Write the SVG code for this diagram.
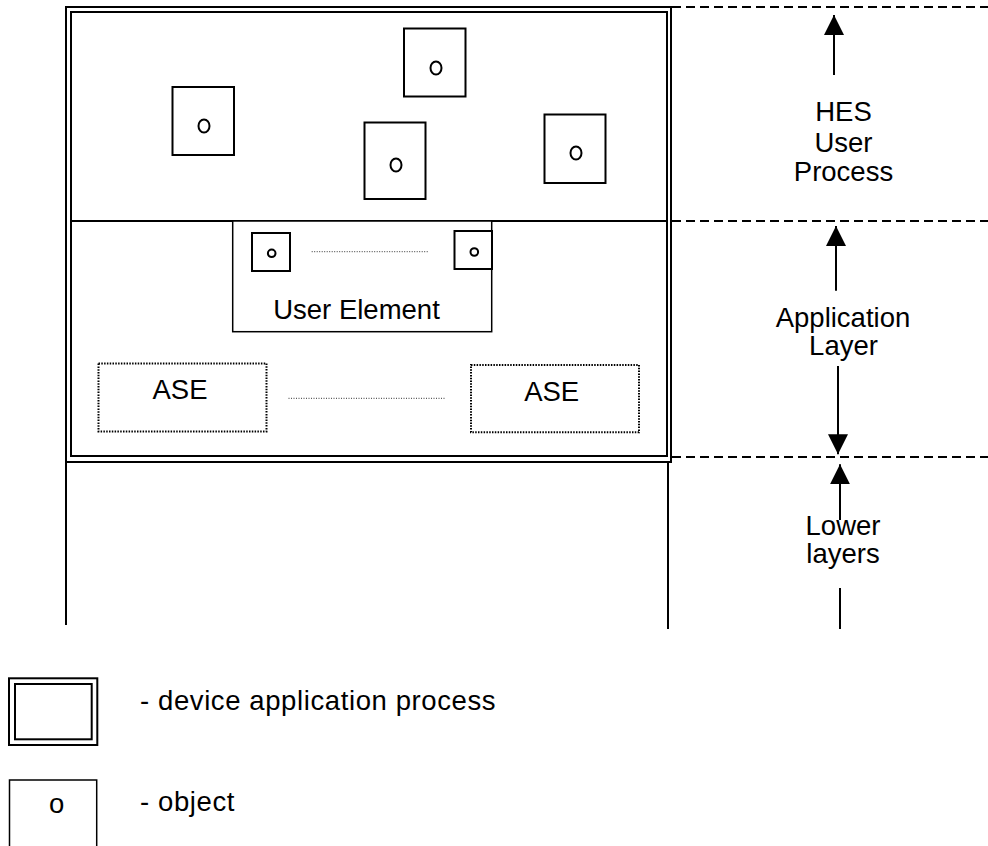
<svg xmlns="http://www.w3.org/2000/svg" width="988" height="846" viewBox="0 0 988 846">
<style>
  text { font-family: "Liberation Sans", Arial, sans-serif; font-size: 27.5px; fill: #000; }
  .mid { text-anchor: middle; }
  .legend { letter-spacing: 0.6px; }
  .box { fill: #fff; stroke: #000; stroke-width: 2; }
  .thin { fill: #fff; stroke: #000; stroke-width: 1.5; }
  .oval { fill: none; stroke: #000; stroke-width: 2; }
  .dotbox { fill: none; stroke: #000; stroke-width: 2; stroke-dasharray: 1.5 1.3; }
  .dotline { fill: none; stroke: #333; stroke-width: 1; stroke-dasharray: 1 1.5; }
  .dash { fill: none; stroke: #000; stroke-width: 2; stroke-dasharray: 9 5; }
  .line { fill: none; stroke: #000; stroke-width: 2; }
</style>
<defs>
  <marker id="arr" viewBox="0 0 20 20" refX="20" refY="10" markerWidth="20" markerHeight="20" markerUnits="userSpaceOnUse" orient="auto">
    <path d="M0,0 L20,10 L0,20 Z" fill="#000"/>
  </marker>
</defs>
<rect width="988" height="846" fill="#fff"/>

<g id="process">
  <rect x="66" y="7" width="605" height="455" class="box"/>
  <rect x="71" y="12" width="596" height="444" class="box"/>
  <line x1="71" y1="221" x2="667" y2="221" class="line"/>
  <line x1="66" y1="462" x2="66" y2="625" class="line"/>
  <line x1="668" y1="462" x2="668" y2="629" class="line"/>
</g>

<g id="obj1">
  <rect x="172.5" y="87" width="61.5" height="68" class="box"/>
  <ellipse cx="204" cy="126" rx="5.5" ry="6.5" class="oval"/>
</g>
<g id="obj2">
  <rect x="404" y="28.5" width="61.5" height="68" class="box"/>
  <ellipse cx="436" cy="68" rx="5.5" ry="6.5" class="oval"/>
</g>
<g id="obj3">
  <rect x="364.5" y="122.5" width="61" height="76.5" class="box"/>
  <ellipse cx="396" cy="165" rx="5.5" ry="6.5" class="oval"/>
</g>
<g id="obj4">
  <rect x="544.5" y="114.5" width="61" height="68.5" class="box"/>
  <ellipse cx="576" cy="153" rx="5.5" ry="6.5" class="oval"/>
</g>

<g id="user-element">
  <rect x="232.7" y="221" width="259" height="110.7" class="thin"/>
  <rect x="252" y="233" width="38" height="38" class="box"/>
  <circle cx="271.7" cy="253.3" r="3.8" class="oval" stroke-width="1.5"/>
  <rect x="454.5" y="231" width="37.5" height="38" class="box"/>
  <circle cx="474.3" cy="252" r="3.8" class="oval" stroke-width="1.5"/>
  <line x1="311.7" y1="251.7" x2="429" y2="251.7" class="dotline"/>
  <text x="356.5" y="318.7" class="mid">User Element</text>
</g>

<g id="ase1">
  <rect x="98.5" y="363.5" width="168" height="68" class="dotbox"/>
  <text x="180" y="399" class="mid">ASE</text>
</g>
<g id="ase2">
  <rect x="471" y="365" width="168" height="67.3" class="dotbox"/>
  <text x="551.7" y="400.7" class="mid">ASE</text>
</g>

<g id="connectors">
  <line x1="288.5" y1="398.3" x2="444.6" y2="398.3" class="dotline"/>
  <line x1="672" y1="7" x2="988" y2="7" class="dash"/>
  <line x1="672" y1="221" x2="988" y2="221" class="dash"/>
  <line x1="672" y1="457" x2="988" y2="457" class="dash"/>
  <line x1="834" y1="75" x2="834" y2="15" class="line" marker-end="url(#arr)"/>
  <line x1="836" y1="290.7" x2="836" y2="226" class="line" marker-end="url(#arr)"/>
  <line x1="838" y1="366" x2="838" y2="454.3" class="line" marker-end="url(#arr)"/>
  <line x1="840" y1="520" x2="840" y2="464.3" class="line" marker-end="url(#arr)"/>
  <line x1="840" y1="588" x2="840" y2="629" class="line"/>
</g>

<g id="labels">
  <text x="843.5" y="121" class="mid">HES</text>
  <text x="843.5" y="152" class="mid">User</text>
  <text x="843.5" y="181" class="mid">Process</text>
  <text x="843" y="326.7" class="mid">Application</text>
  <text x="843.5" y="355" class="mid">Layer</text>
  <text x="843" y="535" class="mid">Lower</text>
  <text x="843" y="563.3" class="mid">layers</text>
</g>

<g id="legend-process">
  <rect x="9" y="678.3" width="88.3" height="66.7" class="box" stroke-width="2.5"/>
  <rect x="15" y="684" width="76.7" height="55.3" class="box"/>
  <text x="140" y="710" class="legend">- device application process</text>
</g>
<g id="legend-object">
  <rect x="9.5" y="780" width="87.2" height="70" class="thin" stroke-width="1"/>
  <text x="56.6" y="813" class="mid">o</text>
  <text x="140" y="811" class="legend">- object</text>
</g>
</svg>
